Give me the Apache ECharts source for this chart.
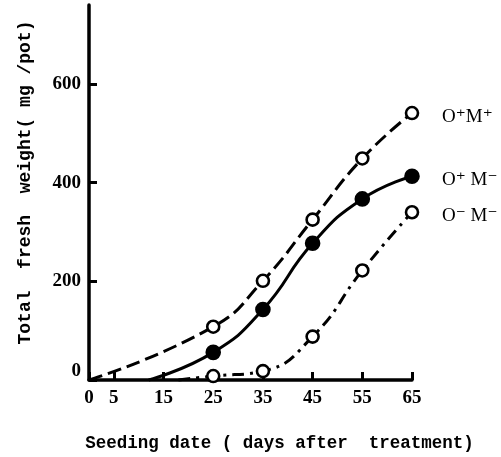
<!DOCTYPE html>
<html>
<head>
<meta charset="utf-8">
<script src="https://cdn.jsdelivr.net/npm/echarts@6/dist/echarts.min.js"></script>
<style>
  html, body { margin: 0; padding: 0; background: #fff; }
  #chartMain { width: 501px; height: 457px; }
</style>
</head>
<body>
<div id="chartMain"></div>
<script>
var myChart;
var option;

// x: seeding date (days after treatment), y: total fresh weight (mg/pot)
var xTicks = [0, 5, 15, 25, 35, 45, 55, 65];
var yTicks = [0, 200, 400, 600];

var seriesNames = ['O\u207AM\u207A', 'O\u207A M\u207B', 'O\u207B M\u207B'];
var days = [25, 35, 45, 55, 65];
var omPlus = [108, 201, 325, 449, 541];      // O+M+  open circles, dashed
var oPlusMMinus = [56, 143, 277, 367, 413];  // O+M-  filled circles, solid
var omMinus = [8, 18, 88, 222, 340];         // O-M-  open circles, dash-dot
var startDay = [0, 12, 18];                  // where each curve leaves zero

function buildData(start, ys) {
	var arr = [{ value: [start, 0], symbol: 'none' }];
	for (var i = 0; i < days.length; i++) {
		arr.push([days[i], ys[i]]);
	}
	return arr;
}

function makeSeries(name, data, lineType, filled) {
	return {
		name: name,
		type: 'line',
		smooth: 0.5,
		clip: false,
		data: data,
		symbol: 'circle',
		symbolSize: filled ? 13 : 12,
		showAllSymbol: true,
		lineStyle: { color: '#000', width: 3, type: lineType },
		itemStyle: { color: filled ? '#000' : '#fff', borderColor: '#000', borderWidth: 2.6 },
		emphasis: { disabled: true },
		endLabel: {
			show: true,
			formatter: name,
			distance: 30,
			offset: [0, 4],
			color: '#000',
			fontFamily: 'Liberation Serif, DejaVu Serif, serif',
			fontSize: 19
		},
		z: filled ? 3 : 2
	};
}

myChart = echarts.init(document.getElementById('chartMain'), null, { renderer: 'canvas' });

option = {
	animation: false,
	backgroundColor: '#fff',
	grid: { left: 89, right: 89, top: 5, bottom: 77, containLabel: false, outerBoundsMode: 'none' },
	xAxis: {
		type: 'value',
		min: 0,
		max: 65,
		name: 'Seeding date ( days after  treatment)',
		nameLocation: 'middle',
		nameGap: 55,
		nameTextStyle: {
			color: '#000', fontFamily: 'Liberation Mono, monospace', fontWeight: 'bold',
			fontSize: 17.5, padding: [0, 0, 0, 58]
		},
		splitLine: { show: false },
		axisLine: { show: true, lineStyle: { color: '#000', width: 3.5 } },
		axisTick: { show: true, inside: true, length: 8, customValues: xTicks, lineStyle: { color: '#000', width: 3 } },
		axisLabel: {
			customValues: xTicks, margin: 9, color: '#000',
			fontFamily: 'Liberation Serif, serif', fontWeight: 'bold', fontSize: 19
		}
	},
	yAxis: {
		type: 'value',
		min: 0,
		max: 760,
		name: 'Total  fresh  weight( mg /pot)',
		nameLocation: 'middle',
		nameGap: 55,
		nameTextStyle: {
			color: '#000', fontFamily: 'Liberation Mono, monospace', fontWeight: 'bold',
			fontSize: 18, padding: [0, 0, 0, 20]
		},
		splitLine: { show: false },
		axisLine: { show: true, lineStyle: { color: '#000', width: 3.5 } },
		axisTick: { show: true, inside: true, length: 8, customValues: yTicks, lineStyle: { color: '#000', width: 3 } },
		axisLabel: {
			customValues: yTicks, margin: 8, color: '#000',
			fontFamily: 'Liberation Serif, serif', fontWeight: 'bold', fontSize: 19,
			formatter: function (v) { return v === 0 ? '{z|0}' : String(v); },
			rich: { z: { padding: [0, 0, 18, 0], fontFamily: 'Liberation Serif, serif', fontWeight: 'bold', fontSize: 19, color: '#000' } }
		}
	},
	series: [
		makeSeries(seriesNames[0], buildData(startDay[0], omPlus), [14, 6], false),
		makeSeries(seriesNames[1], buildData(startDay[1], oPlusMMinus), 'solid', true),
		makeSeries(seriesNames[2], buildData(startDay[2], omMinus), [12, 6, 3, 6], false)
	]
};

myChart.setOption(option);
</script>
</body>
</html>
